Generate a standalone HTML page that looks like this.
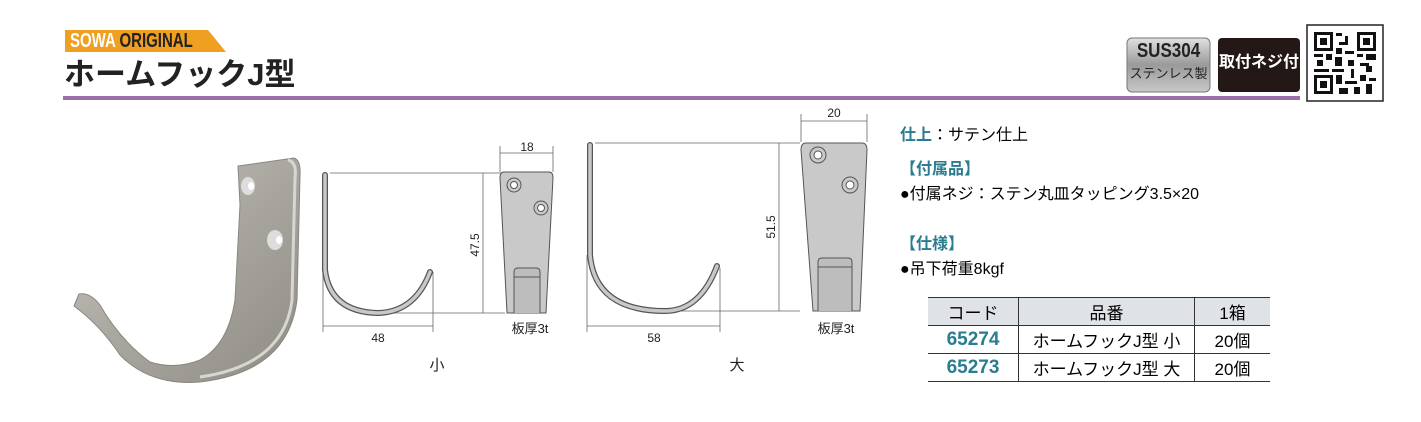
<!DOCTYPE html>
<html><head><meta charset="utf-8"><style>
body{margin:0;width:1421px;height:422px;background:#fff;overflow:hidden;position:relative;font-family:"Liberation Sans","Noto Sans CJK JP",sans-serif}
.a{position:absolute;white-space:nowrap}
.t{color:#2a7d8f;font-weight:bold}
table{border-collapse:collapse;position:absolute;left:928px;top:297px;font-size:17px}
td{border-left:1px solid #333;text-align:center;padding:0;height:27px}
td:first-child{border-left:none}
tr{border-bottom:1px solid #333}
</style></head><body>
<svg class="a" style="left:0;top:0" width="1421" height="422">
<defs>
<linearGradient id="m" x1="0" y1="0" x2="1" y2="1"><stop offset="0" stop-color="#c9c7c0"/><stop offset=".5" stop-color="#a9a69f"/><stop offset="1" stop-color="#8f8c86"/></linearGradient>
<linearGradient id="s" x1="0" y1="0" x2="0" y2="1"><stop offset="0" stop-color="#e0e0e0"/><stop offset=".5" stop-color="#9a9a9a"/><stop offset="1" stop-color="#c8c8c8"/></linearGradient>
</defs>
<path d="M65,30 H208 L226,52 H65 Z" fill="#f0a020"/>
<rect x="63" y="96" width="1237" height="4" fill="#9b6fa6"/>
<rect x="1127" y="38" width="83" height="54" rx="5" fill="url(#s)" stroke="#777"/>
<rect x="1218" y="38" width="82" height="54" rx="4" fill="#231815"/>
<rect x="1307" y="25" width="76" height="76" fill="#fff" stroke="#222" stroke-width="1.5"/>
<g fill="#111">
<rect x="1314" y="32" width="19" height="19"/><rect x="1357" y="32" width="19" height="19"/><rect x="1314" y="75" width="19" height="19"/>
</g>
<g fill="#fff"><rect x="1317" y="35" width="13" height="13"/><rect x="1360" y="35" width="13" height="13"/><rect x="1317" y="78" width="13" height="13"/></g>
<g fill="#111"><rect x="1320" y="38" width="7" height="7"/><rect x="1363" y="38" width="7" height="7"/><rect x="1320" y="81" width="7" height="7"/>
<rect x="1336" y="33" width="6" height="3"/><rect x="1345" y="36" width="3" height="9"/><rect x="1339" y="42" width="9" height="3"/><rect x="1336" y="48" width="6" height="6"/>
<rect x="1314" y="54" width="9" height="3"/><rect x="1326" y="54" width="6" height="6"/><rect x="1345" y="51" width="9" height="3"/><rect x="1357" y="54" width="6" height="3"/><rect x="1366" y="54" width="10" height="6"/>
<rect x="1317" y="60" width="6" height="6"/><rect x="1335" y="57" width="7" height="9"/><rect x="1348" y="60" width="6" height="6"/><rect x="1360" y="63" width="9" height="3"/>
<rect x="1314" y="69" width="15" height="3"/><rect x="1332" y="69" width="12" height="3"/><rect x="1351" y="69" width="3" height="9"/><rect x="1366" y="66" width="6" height="6"/>
<rect x="1336" y="75" width="6" height="9"/><rect x="1345" y="81" width="12" height="3"/><rect x="1360" y="75" width="6" height="6"/><rect x="1369" y="78" width="7" height="3"/>
<rect x="1339" y="88" width="9" height="6"/><rect x="1354" y="87" width="6" height="7"/><rect x="1366" y="84" width="6" height="10"/>
</g>
<!-- photo hook -->
<path d="M238,166 L294,158 Q301,160 300,176 L297,300 Q288,372 200,382 Q150,386 120,355 Q100,325 74,306 L79,294 Q90,292 100,305 Q120,340 150,362 Q175,370 200,360 Q228,345 235,300 L240,205 Z" fill="url(#m)" stroke="#8a877f" stroke-width="1"/>
<path d="M288,160 Q297,162 295,178 L292,300 Q284,365 200,377" fill="none" stroke="#d8d6d0" stroke-width="3"/>
<ellipse cx="248" cy="186" rx="7" ry="9" fill="#ddd"/><ellipse cx="251" cy="186" rx="3" ry="4" fill="#fff"/>
<ellipse cx="275" cy="240" rx="8" ry="10" fill="#ddd"/><ellipse cx="279" cy="240" rx="3" ry="4" fill="#fff"/>
<!-- small profile -->
<g stroke="#666" stroke-width=".8" fill="none">
<path d="M330,173 H505 M390,313 H505 M323,270 V332 M433,272 V332"/>
<path d="M483,173 V313 M323,326 H433 M500,146 V172 M553,146 V172 M500,153 H553"/>
</g>
<path d="M325,175 V270 Q330,312 378,313 Q415,312 430,272" fill="none" stroke="#555" stroke-width="6" stroke-linecap="round"/>
<path d="M325,175 V270 Q330,312 378,313 Q415,312 430,272" fill="none" stroke="#c8c8c8" stroke-width="3.5" stroke-linecap="round"/>
<path d="M504,172 H549 Q553,172 553,178 L546,313 H507 L500,178 Q500,172 504,172 Z" fill="#c9c9c9" stroke="#555"/>
<circle cx="514" cy="185" r="7" fill="#c9c9c9" stroke="#555"/><circle cx="514" cy="185" r="3.5" fill="#fff" stroke="#555"/>
<circle cx="541" cy="208" r="7" fill="#c9c9c9" stroke="#555"/><circle cx="541" cy="208" r="3.5" fill="#fff" stroke="#555"/>
<path d="M514,313 V272 Q514,268 518,268 H536 Q540,268 540,272 V313 M514,277 H540" fill="#bdbdbd" stroke="#555"/>
<!-- large profile -->
<g stroke="#666" stroke-width=".8" fill="none">
<path d="M595,143 H800 M660,311 H800 M587,255 V332 M720,268 V332"/>
<path d="M779,143 V311 M587,326 H720 M801,114 V142 M867,114 V142 M801,121 H867"/>
</g>
<path d="M590,145 V255 Q595,311 665,311 Q700,311 717,266" fill="none" stroke="#555" stroke-width="6" stroke-linecap="round"/>
<path d="M590,145 V255 Q595,311 665,311 Q700,311 717,266" fill="none" stroke="#c8c8c8" stroke-width="3.5" stroke-linecap="round"/>
<path d="M806,143 H862 Q867,143 867,150 L860,311 H813 L801,150 Q801,143 806,143 Z" fill="#c9c9c9" stroke="#555"/>
<circle cx="818" cy="155" r="8" fill="#c9c9c9" stroke="#555"/><circle cx="818" cy="155" r="4" fill="#fff" stroke="#555"/>
<circle cx="850" cy="185" r="8" fill="#c9c9c9" stroke="#555"/><circle cx="850" cy="185" r="4" fill="#fff" stroke="#555"/>
<path d="M818,311 V262 Q818,258 822,258 H848 Q852,258 852,262 V311 M818,267 H852" fill="#bdbdbd" stroke="#555"/>
<g font-size="12" fill="#222" text-anchor="middle">
<text x="527" y="151">18</text><text x="378" y="342">48</text><text x="654" y="342">58</text><text x="834" y="117">20</text>
<text transform="translate(479,245) rotate(-90)">47.5</text><text transform="translate(775,227) rotate(-90)">51.5</text>
<text x="530" y="333" font-size="13">板厚3t</text><text x="836" y="333" font-size="13">板厚3t</text>
<text x="437" y="370" font-size="15">小</text><text x="737" y="370" font-size="15">大</text>
</g>
</svg>
<div class="a" style="left:70px;top:29px;font-size:20px;font-weight:bold;line-height:24px;transform:scaleX(.75);transform-origin:left"><span style="color:#fff">SOWA</span> <span style="color:#222">ORIGINAL</span></div>
<div class="a" style="left:64px;top:57px;font-size:31px;font-weight:bold;color:#222;line-height:36px">ホームフックJ型</div>
<div class="a" style="left:1127px;top:40px;width:83px;text-align:center;font-weight:bold;font-size:20px;line-height:22px;color:#222;transform:scaleX(.85)">SUS304</div>
<div class="a" style="left:1127px;top:64px;width:83px;text-align:center;font-size:13px;line-height:20px;color:#222">ステンレス製</div>
<div class="a" style="left:1218px;top:50px;width:82px;text-align:center;font-weight:bold;font-size:16px;line-height:26px;color:#fff">取付ネジ付</div>
<div class="a" style="left:900px;top:126px;font-size:16px;line-height:20px"><span class="t">仕上</span>：サテン仕上</div>
<div class="a t" style="left:900px;top:160px;font-size:16px;line-height:20px">【付属品】</div>
<div class="a" style="left:900px;top:185px;font-size:16px;line-height:20px">●付属ネジ：ステン丸皿タッピング3.5×20</div>
<div class="a t" style="left:900px;top:235px;font-size:16px;line-height:20px">【仕様】</div>
<div class="a" style="left:900px;top:260px;font-size:16px;line-height:20px">●吊下荷重8kgf</div>
<table style="border-top:1px solid #333">
<tr style="background:#dfe3e8"><td style="width:90px;height:25px">コード</td><td style="width:175px">品番</td><td style="width:75px">1箱</td></tr>
<tr><td class="t" style="font-size:19px">65274</td><td>ホームフックJ型 小</td><td>20個</td></tr>
<tr><td class="t" style="font-size:19px">65273</td><td>ホームフックJ型 大</td><td>20個</td></tr>
</table>
</body></html>
